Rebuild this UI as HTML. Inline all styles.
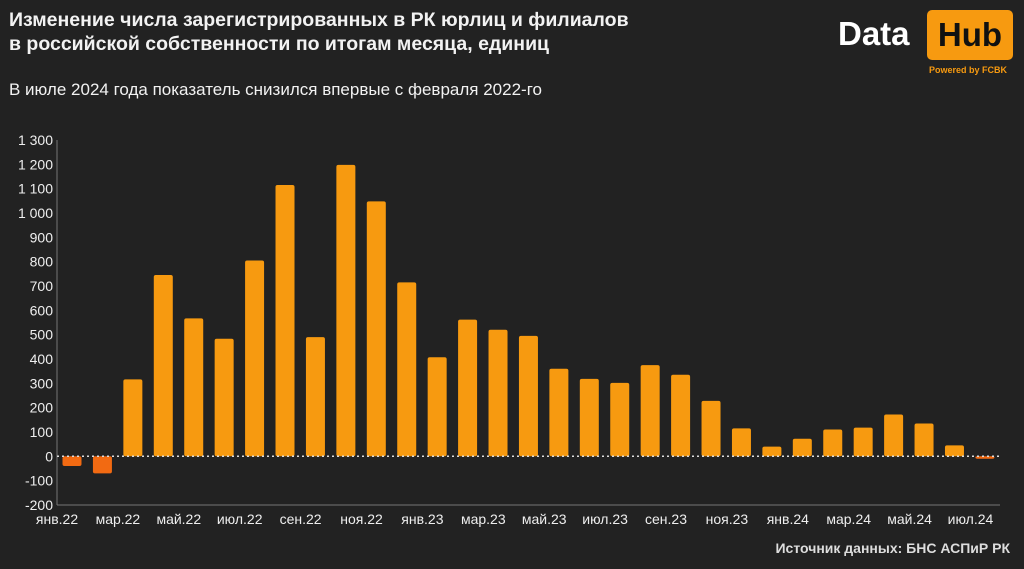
<!DOCTYPE html>
<html><head><meta charset="utf-8"><style>
html,body{margin:0;padding:0;background:#222222;}
body{width:1024px;height:569px;overflow:hidden;position:relative;font-family:"Liberation Sans",sans-serif;color:#fff;}
.t{position:absolute;left:9px;top:8px;font-size:19.5px;font-weight:bold;line-height:24px;color:#f2f2f2}
.s{position:absolute;left:9px;top:80px;font-size:17px;color:#f2f2f2}
.src{position:absolute;right:14px;top:540px;font-size:14px;font-weight:bold;color:#ddd}
</style></head><body>
<div class="t">Изменение числа зарегистрированных в РК юрлиц и филиалов<br>в российской собственности по итогам месяца, единиц</div>
<div class="s">В июле 2024 года показатель снизился впервые с февраля 2022-го</div>
<div style="position:absolute;left:838px;top:15px;font-size:33px;font-weight:bold;color:#fff">Data</div>
<div style="position:absolute;left:927px;top:10px;width:86px;height:50px;background:#f79a10;border-radius:5px;color:#111;font-size:33px;font-weight:bold;text-align:center;line-height:50px">Hub</div>
<div style="position:absolute;left:929px;top:65px;font-size:9px;font-weight:bold;color:#f79a10">Powered by FCBK</div>
<svg width="1024" height="569" style="position:absolute;left:0;top:0" id="c"></svg>
<div class="src">Источник данных: БНС АСПиР РК</div>
<script>
var v=[-40,-70,316,745,567,483,805,1115,490,1198,1048,715,407,562,520,495,360,318,302,375,335,228,115,40,72,110,118,172,135,45,-10];
var s='',z=456.3,k=0.2433;
s+='<line x1="57" y1="140" x2="57" y2="505" stroke="#777" stroke-width="1"/><line x1="57" y1="505" x2="1000" y2="505" stroke="#777"/>';
for(var y=-200;y<=1300;y+=100){var py=z-y*k;var l=y<0?'-'+Math.abs(y):(y>=1000?'1 '+String(y).slice(1):y);
s+='<text x="53" y="'+(py+5)+'" text-anchor="end" font-size="14" fill="#eee" font-family="Liberation Sans">'+l+'</text>';}
v.forEach(function(d,i){var x=72+i*30.43-9.5;var h=Math.abs(d)*k;var c=d<0?'#f26a12':'#f79a10';
var y0=d<0?z:z-h;s+='<rect x="'+x+'" y="'+y0+'" width="19" height="'+h+'" rx="2" fill="'+c+'"/>';});
s+='<line x1="57" y1="'+z+'" x2="1000" y2="'+z+'" stroke="#ddd" stroke-width="1.5" stroke-dasharray="2,3"/>';
var m=['янв','мар','май','июл','сен','ноя'];
for(var j=0;j<16;j++){var yr=22+Math.floor(j/6);s+='<text x="'+(57+j*60.9)+'" y="524" text-anchor="middle" font-size="14" fill="#eee" font-family="Liberation Sans">'+m[j%6]+'.'+yr+'</text>';}
document.getElementById('c').innerHTML=s;
</script>
</body></html>
